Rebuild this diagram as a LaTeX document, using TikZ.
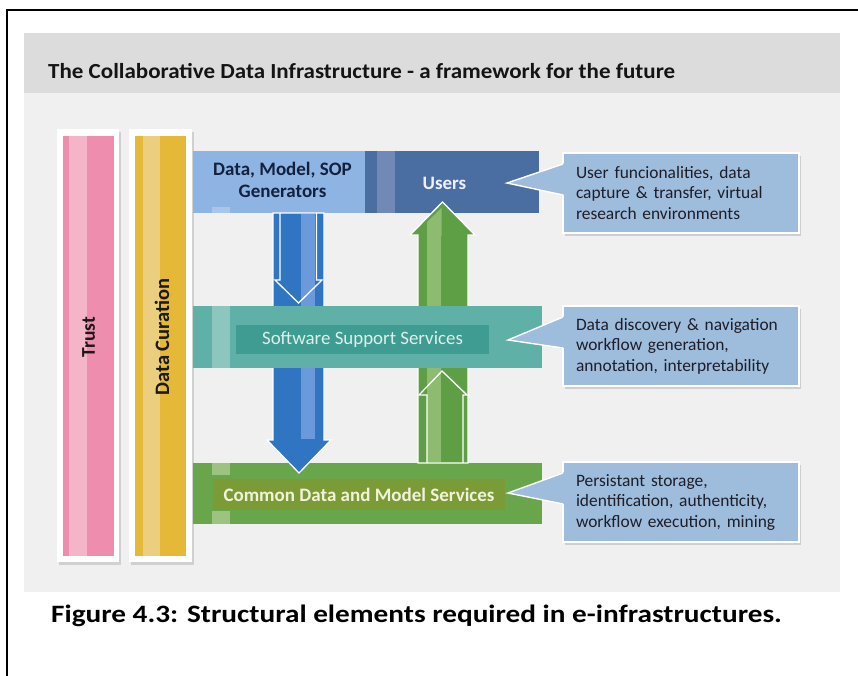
\documentclass[tikz,border=0pt]{standalone}
\usepackage{fontspec}
\setmainfont{Carlito}
\usetikzlibrary{calc,shadows}

\definecolor{panel}{HTML}{F0F0F0}
\definecolor{titleband}{HTML}{DCDCDC}
\definecolor{trustpink}{HTML}{EE8DAD}
\definecolor{trustlight}{HTML}{F5B5C9}
\definecolor{curyellow}{HTML}{E5B838}
\definecolor{curlight}{HTML}{ECCF7E}
\definecolor{genblue}{HTML}{8DB4E2}
\definecolor{genlight}{HTML}{A9C6EA}
\definecolor{usersblue}{HTML}{4B6EA2}
\definecolor{userslight}{HTML}{7189B6}
\definecolor{textnavy}{HTML}{14213D}
\definecolor{arrowblue}{HTML}{2F75C2}
\definecolor{arrowbluelight}{HTML}{6A9ADB}
\definecolor{arrowgreen}{HTML}{5E9F45}
\definecolor{arrowgreenlight}{HTML}{8DBB70}
\definecolor{softteal}{HTML}{5FB0A6}
\definecolor{softtealdark}{HTML}{3E9C92}
\definecolor{softteallight}{HTML}{8CC6BF}
\definecolor{softtext}{HTML}{DDF0EC}
\definecolor{commongreen}{HTML}{69A64B}
\definecolor{commonolive}{HTML}{7B9B36}
\definecolor{commonlight}{HTML}{9CC37F}
\definecolor{commontext}{HTML}{F2F2DA}
\definecolor{callfill}{HTML}{9EBCDC}
\definecolor{calltext}{HTML}{1E1E28}

\tikzset{
  block/.style={anchor=north west, inner sep=0pt, outer sep=0pt, draw=none},
  pillarframe/.style={block, fill=white, drop shadow={opacity=0.28, shadow xshift=1.5pt, shadow yshift=-2.5pt}},
  callout/.style={block, fill=callfill, draw=white, line width=1.6pt,
    minimum width=235pt, minimum height=80pt, text width=210pt, align=left,
    inner xsep=13pt, text=calltext, font=\fontsize{17.4}{20.5}\selectfont,
    drop shadow={opacity=0.3, shadow xshift=2pt, shadow yshift=-3pt}},
  blockarrow/.style={draw=white, line width=1.3pt, line join=miter},
  inneroutline/.style={draw=white, line width=1.3pt, line join=miter}
}

\begin{document}
\begin{tikzpicture}[x=1pt, y=-1pt]
  % page and outer frame
  \fill[white] (0,0) rectangle (858,675);
  \useasboundingbox (0,0) rectangle (858,675);
  \draw[line width=2pt] (7,677) -- (7,10) -- (860,10);

  % grey panel with title band
  \fill[panel] (24,93) rectangle (840,592);
  \fill[titleband] (24,33) rectangle (840,93);
  \node[anchor=west, inner sep=0pt, font=\bfseries\fontsize{21.5}{24}\selectfont, text=black!92]
    (title) at (48,71) {\scalebox{1.07}[1]{The Collaborative Data Infrastructure - a framework for the future}};

  % vertical pillars: Trust and Data Curation
  \node[pillarframe, minimum width=62pt, minimum height=433pt] (trustframe) at (57,129) {};
  \node[block, fill=trustpink, minimum width=51pt, minimum height=420pt] (trust) at (63,136) {};
  \fill[trustlight] (69,136) rectangle (87,556);
  \node[rotate=90, font=\bfseries\fontsize{19.5}{22}\selectfont, text=black!90] (trustlabel) at (88.5,337) {Trust};

  \node[pillarframe, minimum width=63pt, minimum height=433pt] (curframe) at (129,129) {};
  \node[block, fill=curyellow, minimum width=51pt, minimum height=420pt] (cur) at (135,136) {};
  \fill[curlight] (143,136) rectangle (160,556);
  \node[rotate=90, font=\bfseries\fontsize{20.5}{22}\selectfont, text=black!90] (curlabel) at (162,337) {Data Curation};

  % top row: generators and users
  \node[block, fill=genblue, minimum width=172pt, minimum height=62pt] (gen) at (193,151) {};
  \fill[genlight] (212,207) rectangle (230,213);
  \node[align=center, font=\bfseries\fontsize{19}{22}\selectfont, text=textnavy] (genlabel)
    at (282.5,180) {Data, Model, SOP\\Generators};
  \node[block, fill=usersblue, minimum width=174pt, minimum height=62pt] (users) at (365,151) {};
  \fill[userslight] (377,151) rectangle (395,213);
  \node[font=\bfseries\fontsize{19}{20}\selectfont, text=white!94!blue] (userslabel) at (444.5,183) {Users};

  % bottom band: common data and model services
  \node[block, fill=commongreen, minimum width=349pt, minimum height=61pt] (common) at (193,463) {};
  \fill[commonlight] (212,463) rectangle (230,475);
  \fill[commonlight] (212,511) rectangle (230,524);
  \node[block, fill=commonolive, minimum width=292pt, minimum height=31pt,
    font=\bfseries\fontsize{19}{20}\selectfont, text=commontext] (commonin) at (213,479)
    {\makebox[292pt]{Common Data and Model Services}};

  % downward flow: generators -> common services
  \coordinate (dS) at (298.5,213);
  \coordinate (dE) at (299,473);
  \path[fill=arrowblue, blockarrow]
    ($(dS)+(-25.5,0)$) -- ($(dE)+(-26,-33)$) -- ($(dE)+(-32,-33)$) -- (dE)
    -- ($(dE)+(32,-33)$) -- ($(dE)+(25,-33)$) -- ($(dS)+(25.5,0)$) -- cycle;
  \fill[arrowbluelight] ($(dS)+(2,1)$) rectangle ($(dE)+(16,-34)$);
  \draw[inneroutline]
    ($(dS)+(-18.5,0)$) -- ($(dS)+(-18.5,67)$) -- ($(dS)+(-23.5,67)$) -- ($(dS)+(0,90)$)
    -- ($(dS)+(23.5,67)$) -- ($(dS)+(18,67)$) -- ($(dS)+(18,0)$);

  % upward flow: common services -> users
  \coordinate (uS) at (443,463);
  \coordinate (uE) at (442.5,202);
  \path[fill=arrowgreen, blockarrow]
    ($(uS)+(-25,0)$) -- ($(uE)+(-24.5,33)$) -- ($(uE)+(-32.5,33)$) -- (uE)
    -- ($(uE)+(32.5,33)$) -- ($(uE)+(25.5,33)$) -- ($(uS)+(25,0)$) -- cycle;
  \fill[arrowgreenlight] ($(uE)+(-15.5,34)$) rectangle ($(uS)+(-2,-1)$);
  \fill[arrowgreenlight] ($(uE)+(-1,6)$) -- ($(uE)+(-15.5,20)$) -- ($(uE)+(-15.5,34)$) -- ($(uE)+(-1,34)$) -- cycle;
  \draw[inneroutline]
    ($(uS)+(-16,0)$) -- ($(uS)+(-16,-68)$) -- ($(uS)+(-24,-68)$) -- ($(uS)+(-1,-92)$)
    -- ($(uS)+(24,-68)$) -- ($(uS)+(20,-68)$) -- ($(uS)+(20,0)$);

  % middle band: software support services (over the flows)
  \node[block, fill=softteal, minimum width=349pt, minimum height=62pt] (soft) at (193,306) {};
  \fill[softteallight] (212,306) rectangle (230,368);
  \node[block, fill=softtealdark, minimum width=253pt, minimum height=29pt,
    font=\fontsize{18.9}{20}\selectfont, text=softtext] (softin) at (236,325)
    {\makebox[253pt]{Software Support Services}};

  % callouts describing each layer
  \node[callout] (call1) at (563,153)
    {User funcionalities, data\\capture \& transfer, virtual\\research environments};
  \node[callout] (call2) at (563,306)
    {Data discovery \& navigation\\workflow generation,\\annotation, interpretability};
  \node[callout] (call3) at (563,462)
    {Persistant storage,\\identification, authenticity,\\workflow execution, mining};

  \coordinate (tip1) at (507,183);
  \coordinate (tip2) at (508,340);
  \coordinate (tip3) at (508,493);
  \foreach \c/\t in {call1/tip1, call2/tip2, call3/tip3} {
    \fill[callfill] ($(\c.north west)+(2,10)$) -- (\t) -- ($(\c.north west)+(2,42)$) -- cycle;
    \draw[white, line width=1.4pt] ($(\c.north west)+(0,11)$) -- (\t) -- ($(\c.north west)+(0,42)$);
  }

  % caption
  \node[anchor=base west, inner sep=0pt, font=\bfseries\fontsize{25}{28}\selectfont] (caption)
    at (51,622) {\scalebox{1.17}[1]{Figure 4.3: Structural elements required in e-infrastructures.}};
\end{tikzpicture}
\end{document}
